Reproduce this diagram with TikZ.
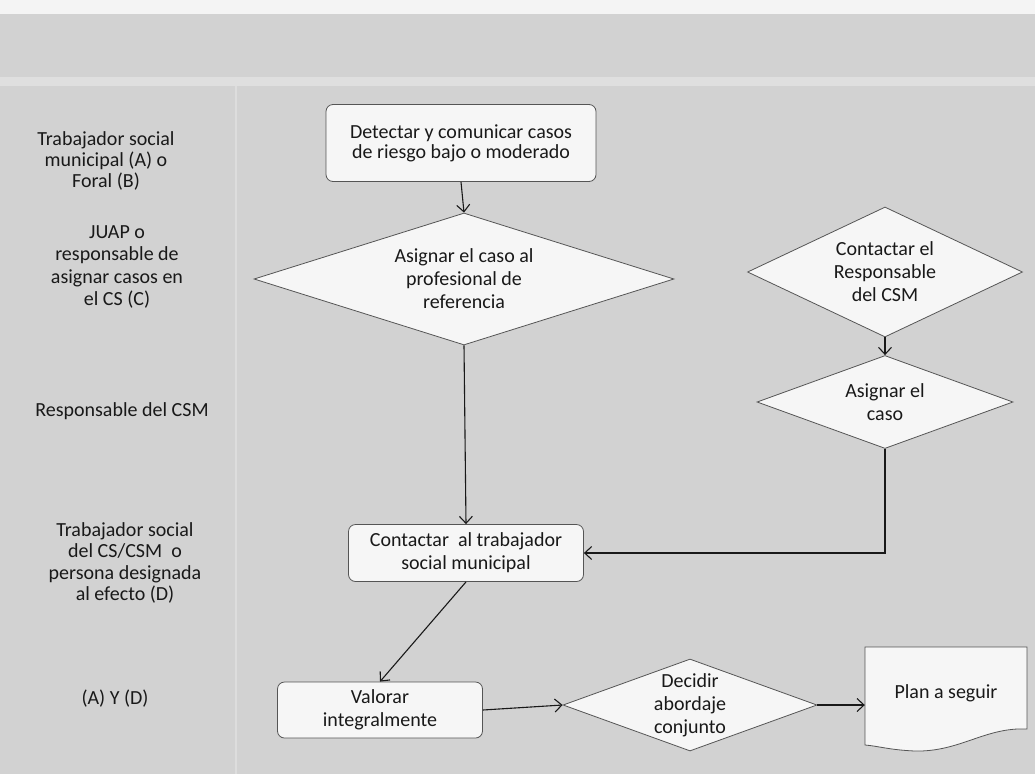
\documentclass[tikz,border=0pt]{standalone}
\usepackage{fontspec}
\setmainfont{Carlito}
\usetikzlibrary{shapes.geometric,arrows.meta,calc}
\definecolor{bggray}{RGB}{210,210,210}
\definecolor{inkc}{RGB}{25,25,25}
\definecolor{edgec}{RGB}{85,85,85}
\definecolor{boxfill}{RGB}{246,246,246}
\begin{document}
\begin{tikzpicture}[x=1pt,y=-1pt,
  every node/.style={font=\fontsize{20}{23}\selectfont, text=inkc},
  proc/.style={draw=edgec, line width=0.8pt, fill=boxfill, rounded corners=7pt, align=center, inner sep=0pt},
  dia/.style={diamond, draw=edgec, line width=0.8pt, fill=boxfill, align=center, inner sep=0pt},
  lab/.style={align=center, inner sep=0pt},
  conn/.style={draw=inkc, line width=1.1pt, -{Straight Barb[length=7pt,width=13pt]}}]
% background (scanned page)
\fill[bggray] (0,0) rectangle (1035,774);
\useasboundingbox (0,0) rectangle (1035,774);
\fill[white!75!bggray] (0,0) rectangle (1035,14);
\fill[white!30!bggray] (0,77) rectangle (1035,86);
\draw[white!25!bggray, line width=2pt] (236,86) -- (236,774);

% lane labels
\node[lab, font=\fontsize{20}{21}\selectfont] (l1) at (106,161) {Trabajador social\\municipal (A) o\\Foral (B)};
\node[lab, font=\fontsize{20}{22.5}\selectfont] (l2) at (117,267) {JUAP o\\responsable de\\asignar casos en\\el CS (C)};
\node[lab] (l3) at (122,411) {Responsable del CSM};
\node[lab, font=\fontsize{20}{21.5}\selectfont] (l4) at (125,563) {Trabajador social\\del CS/CSM\ \ o\\persona designada\\al efecto (D)};
\node[lab] (l5) at (115,699) {(A) Y (D)};

% flow nodes
\node[proc, font=\fontsize{20}{20}\selectfont, minimum width=270pt, minimum height=77pt] (det) at (461,143) {Detectar y comunicar casos\\de riesgo bajo o moderado};
\node[dia, shape aspect=3.18, minimum width=420pt, minimum height=132pt] (d1) at (464,279) {Asignar el caso al\\profesional de\\referencia};
\node[dia, shape aspect=2.1, minimum width=275pt, minimum height=130pt] (d2) at (885,272) {Contactar el\\Responsable\\del CSM};
\node[dia, shape aspect=2.75, minimum width=256pt, minimum height=93pt] (d3) at (885,402) {Asignar el\\caso};
\node[proc, minimum width=235pt, minimum height=57pt] (contact) at (466,553) {Contactar\ \ al trabajador\\social municipal};
\node[proc, minimum width=205pt, minimum height=56pt] (val) at (380,710) {Valorar\\integralmente};
\node[dia, shape aspect=2.6, inner ysep=-8pt, minimum width=254pt, minimum height=92pt] (dec) at (690,705) {Decidir\\abordaje\\conjunto};
\draw[draw=edgec, fill=boxfill, line width=0.8pt] (865,647) -- (1027,647) -- (1027,729)
  .. controls (985,727) and (960,752) .. (915,751)
  .. controls (890,750) and (878,746) .. (865,745) -- cycle;
\node[inner sep=0pt, minimum width=162pt, minimum height=92pt] (plan) at (946,693) {Plan a seguir};

% connectors
\draw[conn] (det.south) -- (d1.north);
\draw[conn] (d1.south) -- (contact.north);
\draw[conn] (d2.south) -- (d3.north);
\draw[conn] (d3.south) |- (contact.east);
\draw[conn] (contact.south) -- (val.north);
\draw[conn] (val.east) -- (dec.west);
\draw[conn] (dec.east) -- (dec.east -| plan.west);
\end{tikzpicture}
\end{document}
